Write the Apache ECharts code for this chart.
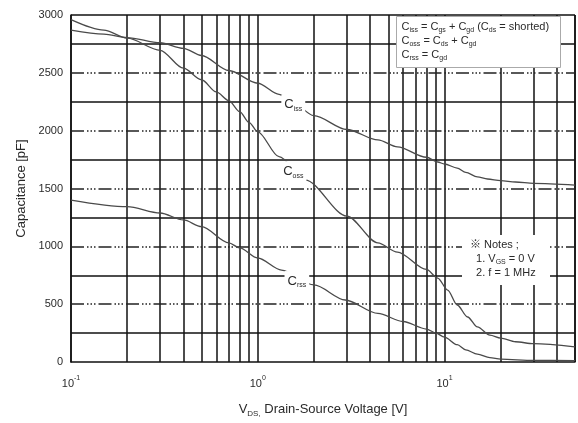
<!DOCTYPE html>
<html><head><meta charset="utf-8">
<script src="https://cdn.jsdelivr.net/npm/echarts@6/dist/echarts.min.js"></script>
<style>html,body{margin:0;padding:0;background:#fff}#c{width:578px;height:423px}</style>
</head><body><div id="c"></div>
<script>
// ---- data ----
const cissV = [0.1, 0.15, 0.2, 0.3, 0.4, 0.5, 0.7, 1.0, 1.3, 1.5, 2, 3, 4.4, 5.6, 8, 9.2, 10, 11.7, 13, 15, 17, 20, 24, 30, 50];
const cissC = [2870, 2835, 2805, 2760, 2712, 2650, 2520, 2410, 2314, 2260, 2130, 2010, 1920, 1860, 1770, 1729, 1712, 1677, 1640, 1600, 1582, 1568, 1556, 1545, 1530];

const cossV = [0.1, 0.15, 0.2, 0.3, 0.4, 0.5, 0.6, 0.7, 0.8, 0.9, 1.0, 1.3, 1.8, 3, 4.4, 5.6, 8, 9.2, 10.4, 11.7, 13.3, 15, 17.5, 20, 24, 30, 50];
const cossC = [2960, 2870, 2800, 2695, 2540, 2440, 2335, 2260, 2165, 2070, 1990, 1775, 1573, 1262, 1030, 950, 800, 726, 622, 493, 389, 303, 233, 207, 175, 158, 130];

const crssV = [0.1, 0.2, 0.3, 0.4, 0.5, 0.7, 0.8, 1.0, 1.34, 2, 2.94, 4.4, 6, 8, 9, 10, 11.7, 13, 15, 17.5, 20, 30, 50];
const crssC = [1400, 1343, 1288, 1228, 1170, 1030, 986, 899, 795, 666, 536, 420, 350, 285, 250, 215, 150, 105, 68, 38, 24, 14, 12];

const curveNames = ['iss', 'oss', 'rss'];
const curveLabelAnchors = [[1.55, 2225], [1.55, 1650], [1.62, 700]];

const xMinorLines = [0.2, 0.3, 0.4, 0.5, 0.6, 0.7, 0.8, 0.9, 2, 3, 4, 5, 6, 7, 8, 9, 20, 30, 40, 50];
const ySolidLines = [250, 750, 1250, 1750, 2250, 2750, 3000];
const yDashLines = [500, 1000, 1500, 2000, 2500];
const yTicks = [0, 3000, 500];

const FONT = '"Liberation Sans", Arial, "Noto Sans CJK JP", sans-serif';
const TXT = '#2a2a2a';

function zip(a, b) { return a.map((v, i) => [v, b[i]]); }

const chart = echarts.init(document.getElementById('c'), null, {renderer: 'canvas'});

const curveStyle = {color: '#4a4a4a', width: 1.3};

function labelMark(i) {
  return {
    symbol: 'rect', symbolSize: 1, z: 10,
    itemStyle: {color: 'rgba(0,0,0,0)'},
    label: {
      show: true, position: 'inside', backgroundColor: '#fff', padding: [2, 3, 2, 3],
      formatter: '{c|C}{s|' + curveNames[i] + '}',
      rich: {
        c: {fontFamily: FONT, fontSize: 13, color: TXT, lineHeight: 16, verticalAlign: 'middle'},
        s: {fontFamily: FONT, fontSize: 7, color: TXT, lineHeight: 6, verticalAlign: 'bottom'}
      }
    },
    data: [{coord: curveLabelAnchors[i]}]
  };
}

const richBox = {
  m: {fontFamily: FONT, fontSize: 11, fill: TXT, lineHeight: 14, verticalAlign: 'middle'},
  s: {fontFamily: FONT, fontSize: 7, fill: TXT, lineHeight: 6, verticalAlign: 'bottom'}
};

const option = {
  animation: false,
  backgroundColor: '#fff',
  grid: {left: 71, top: 15, right: 1, bottom: 61, containLabel: false},
  xAxis: {
    type: 'log', logBase: 10, min: 0.1, max: 50,
    axisLine: {show: true, onZero: false, lineStyle: {color: '#111', width: 1.5}},
    axisTick: {show: false},
    splitLine: {show: true, lineStyle: {color: '#111', width: 1.5}},
    axisLabel: {
      margin: 13,
      formatter: function (v) {
        const l = Math.log10(v), e = Math.round(l);
        if (Math.abs(l - e) > 1e-6) return '';
        return '{b|10}{p|' + e + '}';
      },
      rich: {
        b: {fontFamily: FONT, fontSize: 11, color: TXT, lineHeight: 14, verticalAlign: 'bottom'},
        p: {fontFamily: FONT, fontSize: 7, color: TXT, lineHeight: 8, verticalAlign: 'top'}
      }
    },
    name: '{m|V}{s|DS,}{m| Drain-Source Voltage [V]}',
    nameLocation: 'middle', nameGap: 38,
    nameTextStyle: {
      rich: {
        m: {fontFamily: FONT, fontSize: 13, color: TXT, lineHeight: 18, verticalAlign: 'middle'},
        s: {fontFamily: FONT, fontSize: 8, color: TXT, lineHeight: 8, verticalAlign: 'bottom'}
      }
    }
  },
  yAxis: {
    type: 'value', min: yTicks[0], max: yTicks[1], interval: yTicks[2],
    axisLine: {show: true, lineStyle: {color: '#111', width: 1.5}},
    axisTick: {show: false},
    splitLine: {show: false},
    axisLabel: {fontFamily: FONT, fontSize: 11, color: TXT, margin: 8, formatter: v => String(v)},
    name: 'Capacitance [pF]', nameLocation: 'middle', nameGap: 36, nameRotate: 90,
    nameTextStyle: {fontFamily: FONT, fontSize: 13, color: TXT}
  },
  series: [
    {
      type: 'line', data: [], z: 1, silent: true,
      markLine: {
        silent: true, symbol: 'none', z: 1, animation: false,
        label: {show: false},
        data: [].concat(
          xMinorLines.map(v => ({xAxis: v, lineStyle: {color: '#111', width: 1.5, type: 'solid'}})),
          ySolidLines.map(v => ({yAxis: v, lineStyle: {color: '#111', width: 1.5, type: 'solid'}})),
          yDashLines.map(v => ({yAxis: v, lineStyle: {color: '#222', width: 1.5, type: [13, 3, 1.5, 2, 1.5, 2, 1.5, 3]}}))
        )
      }
    },
    {type: 'line', data: zip(cissV, cissC), showSymbol: false, smooth: 0.3, smoothMonotone: 'x', z: 3, lineStyle: curveStyle, markPoint: labelMark(0)},
    {type: 'line', data: zip(cossV, cossC), showSymbol: false, smooth: 0.3, smoothMonotone: 'x', z: 3, lineStyle: curveStyle, markPoint: labelMark(1)},
    {type: 'line', data: zip(crssV, crssC), showSymbol: false, smooth: 0.3, smoothMonotone: 'x', z: 3, lineStyle: curveStyle, markPoint: labelMark(2)}
  ],
  graphic: [
    {
      type: 'group', left: 396, top: 16, z: 100,
      children: [
        {type: 'rect', z: 100, shape: {x: 0, y: 0, width: 164, height: 51}, style: {fill: '#fff', stroke: '#aaa', lineWidth: 1}},
        {type: 'text', z: 101, x: 5, y: 3, style: {
          text: '{m|C}{s|iss}{m| = C}{s|gs}{m| + C}{s|gd}{m| (C}{s|ds}{m| = shorted)}\n{m|C}{s|oss}{m| = C}{s|ds}{m| + C}{s|gd}\n{m|C}{s|rss}{m| = C}{s|gd}',
          rich: richBox
        }}
      ]
    },
    {
      type: 'group', left: 462, top: 235, z: 100,
      children: [
        {type: 'rect', z: 100, shape: {x: 0, y: 0, width: 88, height: 50}, style: {fill: '#fff'}},
        {type: 'text', z: 101, x: 8, y: 3, style: {
          text: '{m|※ Notes ;}\n{m|  1. V}{s|GS}{m| = 0 V}\n{m|  2. f = 1 MHz}',
          rich: richBox
        }}
      ]
    }
  ]
};
chart.setOption(option);
</script>
</body></html>
